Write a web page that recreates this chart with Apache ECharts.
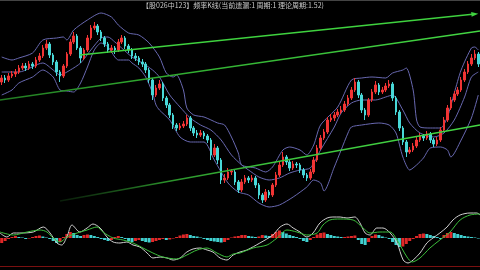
<!DOCTYPE html>
<html><head><meta charset="utf-8">
<script src="https://cdn.jsdelivr.net/npm/echarts/dist/echarts.min.js"></script>
<style>html,body{margin:0;padding:0;background:#000;}#c{width:480px;height:270px;}</style>
</head><body><div id="c"></div>
<script>
const titleText = '【股026中123】频率K线(当前遗漏:1 周期:1 理论周期:1.52)';
const N = 140;
const categories = Array.from({length: N}, (_, i) => String(i + 1));

const openP = [128,132,130,134,136,138,142,144,142,146,
 144,150,154,162,166,155,148,138,134,144,
 156,168,174,162,152,160,172,182,184,178,
 172,166,160,162,160,168,172,164,160,154,
 152,148,146,140,130,115,122,126,112,105,
 95,85,82,84,86,92,82,77,75,77,
 74,70,55,62,50,30,32,38,38,28,
 20,28,32,30,32,25,15,10,18,15,
 25,35,45,53,48,42,46,45,40,35,
 32,38,50,62,72,78,90,92,95,98,
 100,106,112,120,128,115,100,95,110,118,
 125,118,120,124,126,112,98,82,68,58,
 60,64,70,74,72,76,70,66,70,80,
 90,102,110,116,120,130,138,146,152,156];
const closeP = [132,130,134,136,138,142,144,142,146,144,
 150,154,162,166,155,148,138,134,144,156,
 168,174,162,152,160,172,182,184,178,172,
 166,160,162,160,168,172,164,160,154,152,
 148,146,140,130,115,122,126,112,105,95,
 85,82,84,86,92,82,77,75,77,74,
 70,55,62,50,30,32,38,39,28,20,
 28,32,30,32,25,15,10,18,15,25,
 35,45,53,48,42,46,45,40,35,32,
 38,50,62,72,78,90,92,95,98,100,
 106,112,120,128,115,100,95,110,118,125,
 118,120,124,126,112,98,82,68,58,60,
 64,70,74,72,76,70,66,70,80,90,
 102,110,116,120,130,138,146,152,156,146];
const lowP = [125,127,128,132,133,136,140,139,140,141,
 142,148,152,160,152,145,134,128,132,142,
 154,166,160,147,150,158,170,180,175,169,
 163,157,157,156,158,166,161,157,151,149,
 145,143,137,127,110,113,120,109,102,92,
 81,79,80,82,84,79,74,72,73,71,
 67,50,53,46,26,27,30,35,25,17,
 18,26,27,28,22,11,7,8,12,13,
 23,33,43,45,39,40,42,37,32,29,
 30,36,48,60,70,76,88,89,93,96,
 98,104,110,118,112,97,90,93,108,116,
 115,116,118,122,109,95,79,65,53,56,
 58,62,68,69,70,67,63,64,68,78,
 88,100,108,114,118,128,136,144,150,143];
const highP = [135,135,137,139,141,145,147,147,149,148,
 153,157,165,170,168,157,150,140,146,158,
 171,178,176,164,162,175,185,188,186,180,
 174,168,165,164,171,175,174,166,162,157,
 154,151,148,142,132,125,130,128,114,107,
 97,87,87,89,95,94,84,80,80,79,
 76,72,66,64,52,36,42,41,40,30,
 31,35,34,35,34,27,17,21,20,27,
 38,48,58,55,50,49,48,47,42,37,
 41,53,65,75,81,93,96,98,101,104,
 109,115,123,132,130,117,102,112,121,129,
 127,123,127,130,128,114,100,84,70,63,
 67,73,77,76,79,78,72,73,83,93,
 105,113,119,123,133,141,149,156,160,158];

const upperBand = [[0,153],[3,150],[5,152],[9,157],[12,170],[16,172],[18,173],[19,170],[21,180],[25,190],[29,197],[32,193],[34,185],[37,177],[40,175],[43,167],[46,153],[48,137],[50,133],[51,135],[53,120],[54,102],[56,95],[59,93],[63,87],[65,85],[67,73],[69,57],[70,45],[74,42],[77,38],[79,43],[82,60],[84,63],[87,60],[89,55],[91,65],[93,85],[98,103],[102,130],[105,132],[108,133],[112,132],[114,137],[117,140],[118,142],[120,120],[121,90],[122,83],[125,82],[128,82],[130,93],[132,117],[134,140],[137,162],[138,163],[139,160]];
const midBand = [[0,138],[5,138],[12,147],[15,140],[17,135],[20,140],[23,147],[26,160],[29,172],[31,173],[33,168],[35,162],[38,153],[41,147],[44,140],[46,133],[49,115],[52,103],[55,92],[58,85],[61,80],[64,70],[67,55],[70,45],[72,40],[75,33],[78,30],[81,32],[84,37],[87,40],[90,42],[93,60],[97,83],[99,97],[102,107],[105,110],[109,110],[112,113],[114,115],[117,100],[119,87],[122,77],[126,73],[129,77],[132,90],[135,113],[137,133],[139,138]];
const lowerBand = [[0,115],[3,120],[5,127],[9,133],[12,140],[15,133],[17,120],[19,119],[21,118],[23,127],[25,143],[27,160],[29,167],[31,163],[33,153],[34,150],[37,150],[38,147],[40,142],[42,133],[44,117],[45,105],[46,100],[49,90],[52,73],[55,68],[59,68],[62,50],[66,27],[69,18],[72,15],[75,7],[78,3],[81,5],[85,13],[89,23],[91,30],[93,27],[94,19],[97,43],[99,60],[101,77],[102,83],[105,85],[110,87],[113,85],[115,77],[117,53],[119,40],[121,45],[123,52],[125,62],[128,63],[130,60],[131,53],[134,70],[137,92],[139,115]];

const trendTop = [[22.8,155],[138,196]];
const trendMid = [[-0.5,110],[139.5,179]];
const trendLow = [[17,9],[139.5,85]];

const macdHist = [
-0.5,-0.3,-0.1,0.1,0.2,0.1,0.05,-0.1,-0.05,0.1,
0.2,0.25,0.15,0.05,-0.1,-0.3,-0.5,-0.4,0.1,0.4,
0.6,0.5,0.3,0.2,0.3,0.35,0.3,0.2,0.1,-0.1,
-0.2,-0.3,-0.2,0.1,0.2,0.1,-0.1,-0.3,-0.4,-0.3,
-0.2,-0.3,-0.4,-0.45,-0.4,-0.3,-0.2,-0.1,-0.2,-0.15,
-0.05,0.1,0.25,0.35,0.4,0.3,0.2,0.15,0.05,-0.1,
-0.2,-0.3,-0.35,-0.4,-0.45,-0.4,-0.2,0.05,0.15,0.2,
0.3,0.3,0.2,0.15,0.1,0.15,0.3,0.25,0.2,0.4,
0.6,0.75,0.6,0.45,0.3,0.2,0.1,-0.1,-0.3,-0.4,
-0.2,0.1,0.35,0.5,0.55,0.4,0.3,0.2,0.15,0.1,
0.1,0.15,0.2,0.25,-0.2,-0.6,-0.7,-0.4,0.2,0.35,
0.3,0.15,0.05,-0.1,-0.4,-0.7,-0.9,-0.85,-0.6,-0.3,
-0.1,0.2,0.4,0.45,0.4,0.3,0.2,0.1,-0.1,0.3,
0.5,0.6,0.5,0.4,0.3,0.2,0.15,0.1,0.05,-0.05];
const difLine = [[-0.5,0.5],[1.5,0.1],[3.4,0.5],[5.3,0.5],[9.2,0.6],[12.1,1.1],[14.1,0.5],[16.1,-0.5],[17.5,-0.7],[19,0.1],[20.5,1.3],[22.8,0.6],[24.9,1.0],[26.6,1.4],[28.7,1.0],[30.7,0.1],[32.5,-0.4],[34.5,-0.5],[36.5,-0.4],[38.3,-0.7],[40.3,-0.9],[42.4,-1.5],[44.1,-2.0],[46.2,-1.9],[48.2,-2.0],[50,-2.2],[52,-2.0],[54,-1.4],[55.8,-1.1],[57.8,-1.0],[59.9,-1.2],[61.6,-1.4],[63.7,-2.0],[65.7,-2.2],[67.5,-1.7],[69.5,-1.4],[71.5,-1.2],[75.3,-0.5],[79.1,0.3],[81.2,1.1],[83.2,1.4],[85,1.0],[87,0.6],[89,0.1],[90.8,0.5],[92.8,1.5],[94.9,2.0],[96.6,2.1],[98.7,2.1],[100.7,2.0],[103,2.1],[104.5,1.5],[106,0.5],[107.4,0.3],[109.4,1.0],[111.2,1.0],[113.3,0.5],[115.3,-0.5],[117.1,-2.2],[118.5,-2.5],[120,-2.2],[122,-1.5],[124,-0.5],[125.8,0],[127.8,0.5],[129.9,1.1],[131.6,1.8],[133.7,2.3],[136.6,2.5],[138.6,2.5],[139.5,2.3]];
const deaLine = [[-0.5,0.6],[3.4,0.3],[7.4,0.6],[11.2,0.8],[13.2,0.6],[15,0],[17,-0.4],[19,0.1],[22,0.5],[24.9,0.8],[27.8,1.1],[29.5,0.6],[32.5,0],[35.4,-0.2],[38.3,-0.5],[41.2,-1.0],[44.1,-1.5],[47,-1.9],[51.1,-2.1],[54,-1.7],[57,-1.2],[59.9,-1.0],[62.8,-1.5],[65.7,-1.9],[67.5,-1.6],[69.5,-1.5],[73.3,-1.0],[77.4,-0.7],[80.3,0],[83.2,0.8],[86.1,0.6],[89,0.3],[92,0.5],[93.7,1.3],[95.7,1.8],[98.7,1.9],[102.5,1.8],[105.4,1.0],[107.4,0.5],[110.3,0.6],[113.3,0.6],[115.3,-0.2],[118.2,-1.9],[119.7,-2.4],[122,-2.0],[124.9,-1.0],[127.8,-0.2],[130.75,0.6],[133.7,1.8],[136.6,2.3],[139.5,2.4]];

const candleData = openP.map((o, i) => [o, closeP[i], lowP[i], highP[i]]);
const RED = '#f03434', CYAN = '#48d8d8', BAND = '#6868b0';

const chart = echarts.init(document.getElementById('c'), null, {renderer: 'canvas'});
function bandSeries(data) {
  return {type: 'line', xAxisIndex: 1, yAxisIndex: 0, data, showSymbol: false, smooth: 0.25,
    lineStyle: {color: BAND, width: 1}, z: 2, silent: true};
}
chart.setOption({
  backgroundColor: '#000',
  animation: false,
  title: {text: titleText, left: 142, top: 2, padding: 0,
    textStyle: {color: '#c8c8c8', fontSize: 7, fontWeight: 'normal', fontFamily: 'Noto Sans CJK SC'}},
  graphic: [{type: 'rect', shape: {x: 0, y: 0, width: 480, height: 1}, style: {fill: '#444'}}],
  grid: [{left: 0, right: 0, top: 10, height: 200}, {left: 0, right: 0, top: 208, height: 58}],
  xAxis: [
    {type: 'category', gridIndex: 0, data: categories, boundaryGap: true, show: false},
    {type: 'value', gridIndex: 0, min: -0.5, max: N - 0.5, show: false},
    {type: 'category', gridIndex: 1, data: categories, boundaryGap: true,
      axisLine: {show: true, onZero: false, lineStyle: {color: '#7a1010', width: 1}},
      axisTick: {show: false}, axisLabel: {show: false}, splitLine: {show: false}},
    {type: 'value', gridIndex: 1, min: -0.5, max: N - 0.5, show: false}
  ],
  yAxis: [
    {type: 'value', gridIndex: 0, min: 0, max: 200, show: false},
    {type: 'value', gridIndex: 1, min: -2.8, max: 3.0, show: false}
  ],
  series: [
    bandSeries(upperBand), bandSeries(midBand), bandSeries(lowerBand),
    {type: 'candlestick', xAxisIndex: 0, yAxisIndex: 0, data: candleData, barWidth: 2, z: 3,
      itemStyle: {color: RED, color0: CYAN, borderColor: RED, borderColor0: CYAN, borderWidth: 1}},
    {type: 'line', xAxisIndex: 1, yAxisIndex: 0, data: trendTop, z: 4,
      symbol: (v, p) => p.dataIndex === 1 ? 'triangle' : 'none', showSymbol: true,
      symbolSize: [5, 7], symbolRotate: -84, itemStyle: {color: '#3fd23f'},
      lineStyle: {color: '#3fd23f', width: 1.5}},
    {type: 'line', xAxisIndex: 1, yAxisIndex: 0, data: trendMid, showSymbol: false, z: 4,
      lineStyle: {width: 1.5, color: new echarts.graphic.LinearGradient(0, 0, 1, 0, [
        {offset: 0, color: '#227a22'}, {offset: 0.3, color: '#2fa82f'}, {offset: 1, color: '#44d844'}])}},
    {type: 'line', xAxisIndex: 1, yAxisIndex: 0, data: trendLow, showSymbol: false, z: 4,
      lineStyle: {width: 1.5, color: new echarts.graphic.LinearGradient(0, 0, 1, 0, [
        {offset: 0, color: 'rgba(30,90,30,0.3)'}, {offset: 0.25, color: '#2a8f2a'}, {offset: 0.5, color: '#3cc43c'}, {offset: 1, color: '#44d844'}])}},
    {type: 'bar', xAxisIndex: 2, yAxisIndex: 1, data: macdHist, barWidth: 3,
      itemStyle: {color: p => {
        const i = p.dataIndex; const prev = i > 0 ? macdHist[i - 1] : macdHist[i];
        return macdHist[i] >= prev ? '#e02828' : '#40d0d0';
      }}},
    {type: 'line', xAxisIndex: 3, yAxisIndex: 1, data: difLine, showSymbol: false, smooth: 0.3,
      lineStyle: {color: '#cfcfcf', width: 1}, z: 4},
    {type: 'line', xAxisIndex: 3, yAxisIndex: 1, data: deaLine, showSymbol: false, smooth: 0.3,
      lineStyle: {color: '#3cbf3c', width: 1}, z: 4}
  ]
});
</script></body></html>
